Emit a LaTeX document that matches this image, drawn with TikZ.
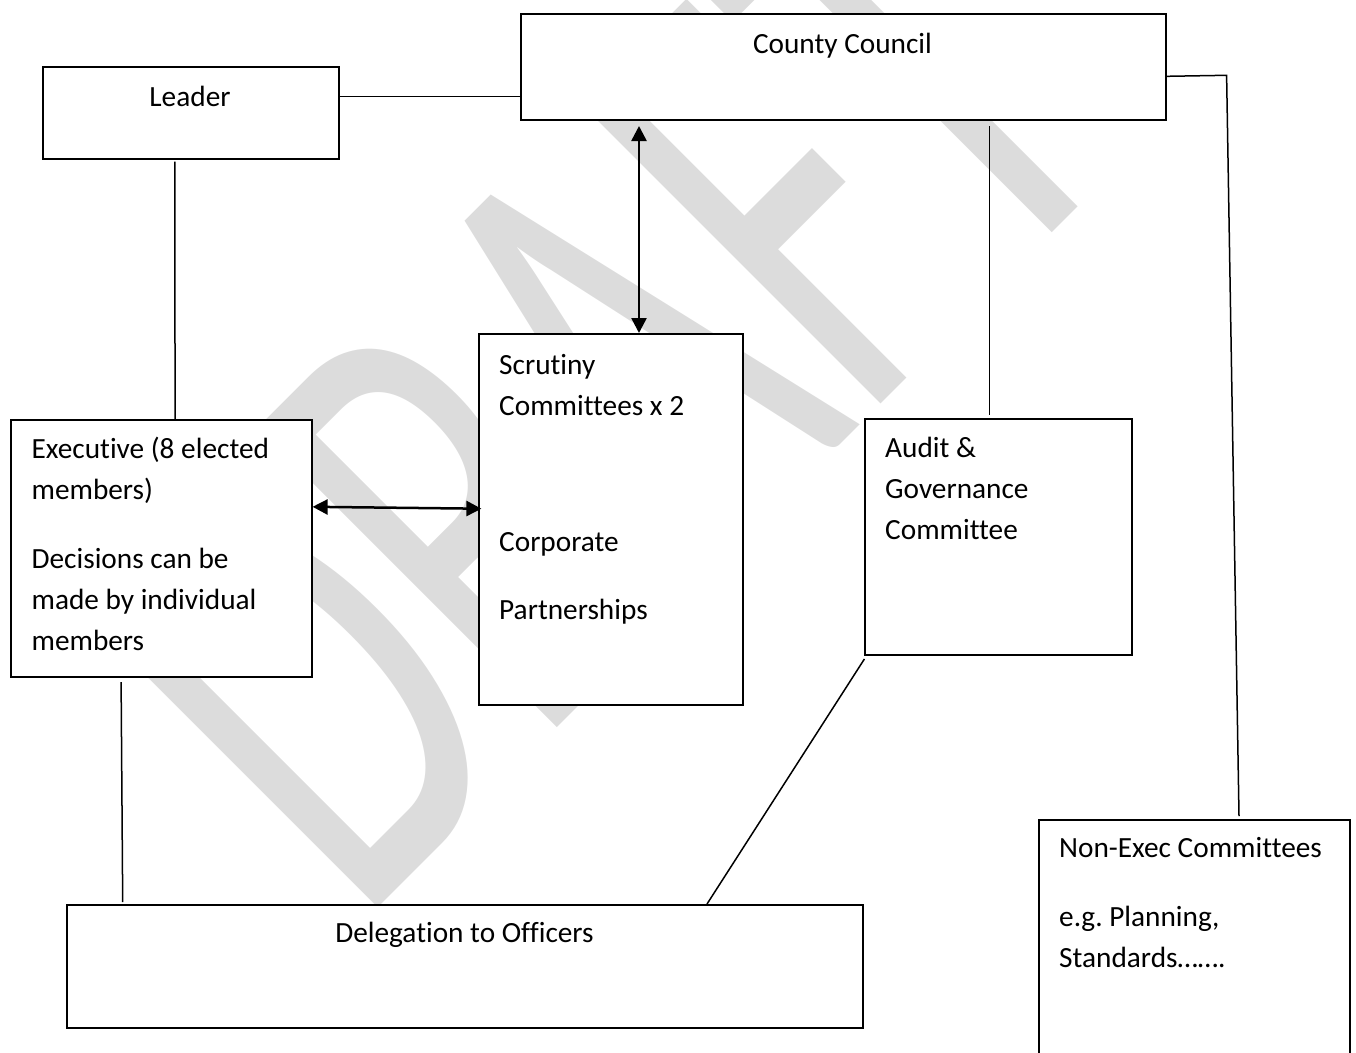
\documentclass[tikz,border=0pt]{standalone}
\usepackage{fontspec}
\setmainfont{Carlito}[Ligatures={NoCommon}]
\usetikzlibrary{arrows.meta}
\definecolor{wmgray}{RGB}{220,220,220}
\newcommand{\boxlines}[1]{\begin{tabular}[t]{@{}l@{}}#1\end{tabular}}
\frenchspacing
\begin{document}
\begin{tikzpicture}[x=1pt,y=-1pt,
  box/.style={draw, line width=2pt, fill=white, rectangle, inner sep=0pt, anchor=north west},
  txt/.style={font=\fontsize{29.3}{41}\selectfont, inner sep=0pt},
  conn/.style={line width=1.5pt},
  dbl/.style={line width=2.5pt, {Triangle[length=15pt,width=15pt]}-{Triangle[length=15pt,width=15pt]}},
  wm/.style={text=wmgray, inner sep=0pt, outer sep=0pt}]
\useasboundingbox (0,0) rectangle (1356,1052);
\clip (0,0) rectangle (1356,1052);
% watermark
\node[wm, rotate=45, anchor=base west] (draft) at (358,927)
  {\scalebox{4.1}[6.6]{\fontsize{100}{100}\selectfont DRAFT}};
% boxes
\node[box, minimum width=296.5pt, minimum height=92pt] (leader) at (41.5,65.7) {};
\node[box, minimum width=645pt, minimum height=106pt] (cc) at (520,13.3) {};
\node[box, minimum width=301pt, minimum height=257pt] (exec) at (9.6,419) {};
\node[box, minimum width=264pt, minimum height=371pt] (scr) at (478,333) {};
\node[box, minimum width=267pt, minimum height=236pt] (aud) at (864,418) {};
\node[box, minimum width=796pt, minimum height=123pt] (del) at (66,904) {};
\node[box, minimum width=311pt, minimum height=260pt] (nex) at (1038,819) {};
% connectors
\draw[conn] ([yshift=16pt]leader.east) -- ([yshift=-29.4pt]cc.west);
\draw[conn] ([shift={(-16pt,-2pt)}]leader.south) -- ([xshift=14pt]exec.north);
\draw[dbl] ([shift={(-204.5pt,-4.7pt)}]cc.south) -- ([xshift=28pt]scr.north);
\draw[dbl] ([yshift=41.7pt]exec.east) -- ([shift={(3.4pt,10.8pt)}]scr.west);
\draw[conn] ([shift={(145.9pt,-4.7pt)}]cc.south) -- ([shift={(-9.1pt,3pt)}]aud.north);
\coordinate (bend) at (1226.6,75.3);
\draw[conn] ([yshift=-9pt]cc.east) -- (bend) -- ([shift={(44.5pt,3pt)}]nex.north);
\draw[conn] ([shift={(-40pt,-4pt)}]exec.south) -- ([shift={(-342.3pt,2pt)}]del.north);
\draw[conn] ([shift={(0.4pt,-3pt)}]aud.south west) -- ([xshift=242pt]del.north);
% texts
\node[txt, anchor=base] (cc-t) at (842.5,53.5) {County Council};
\node[txt, anchor=base] (leader-t) at (190,106) {Leader};
\node[txt, anchor=base west] (exec-t) at (31.4,458)
  {\boxlines{Executive (8 elected\\ members)\\[28pt] Decisions can be\\ made by individual\\ members}};
\node[txt, anchor=base west] (scr-t) at (499,374)
  {\boxlines{Scrutiny\\ Committees x 2\\[95pt] Corporate\\[27pt] Partnerships}};
\node[txt, anchor=base west] (aud-t) at (885,457.6)
  {\boxlines{Audit \&\\ Governance\\ Committee}};
\node[txt, anchor=base] (del-t) at (464.5,942) {Delegation to Officers};
\node[txt, anchor=base west] (nex-t) at (1059,857)
  {\boxlines{Non-Exec Committees\\[28pt] e.g. Planning,\\ Standards…….}};
\end{tikzpicture}
\end{document}
